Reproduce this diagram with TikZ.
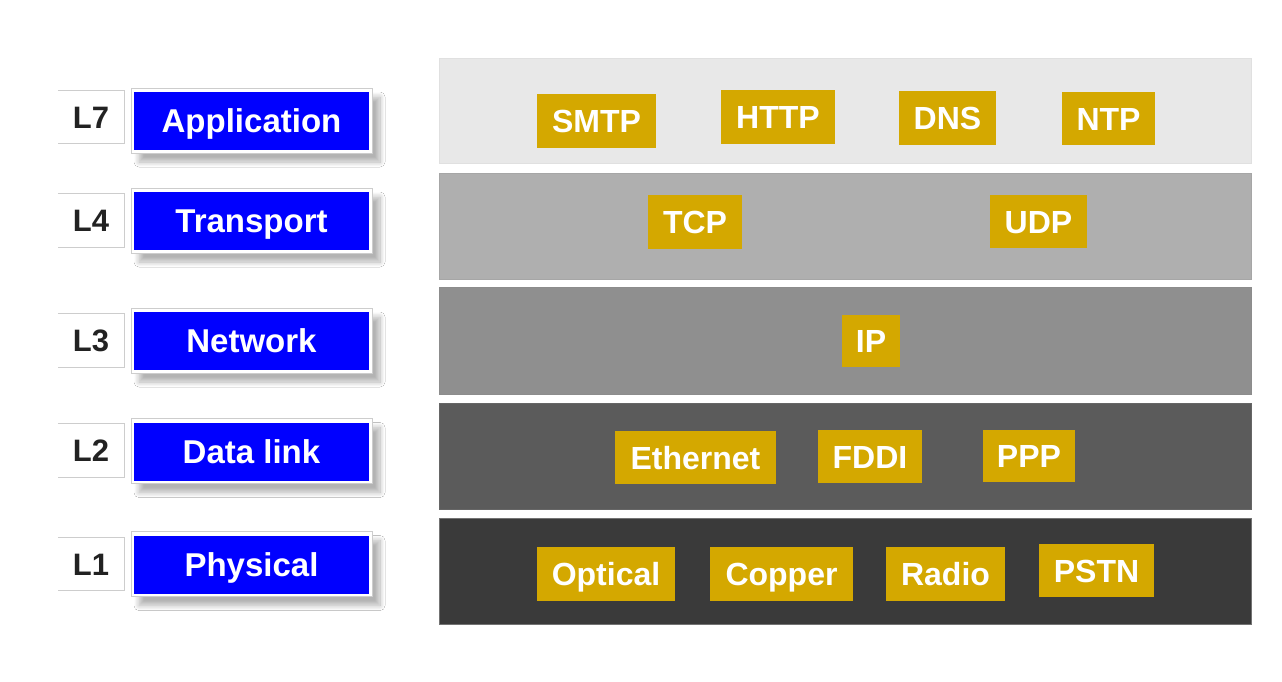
\documentclass[tikz,border=0pt]{standalone}
\usepackage{fontspec}
\setmainfont{Liberation Sans}
\usetikzlibrary{shadows.blur}
\definecolor{gold}{RGB}{212,168,0}
\definecolor{bandA}{RGB}{232,232,232}
\definecolor{bandB}{RGB}{175,175,175}
\definecolor{bandC}{RGB}{143,143,143}
\definecolor{bandD}{RGB}{91,91,91}
\definecolor{bandE}{RGB}{58,58,58}
\definecolor{frameline}{RGB}{205,205,205}
\definecolor{ltext}{RGB}{34,34,34}
\begin{document}
\begin{tikzpicture}[x=1pt,y=-1pt,
  band/.style={inner sep=0pt, minimum width=812pt, line width=0.8pt},
  proto/.style={fill=gold, text=white, inner sep=0pt, font=\bfseries\fontsize{32}{32}\selectfont, text height=23pt, text depth=0pt},
  frame/.style={fill=white, draw=frameline, line width=0.8pt, inner sep=0pt, minimum width=241pt, minimum height=65pt,
    blur shadow={shadow xshift=8pt, shadow yshift=-9pt, shadow blur radius=5pt, shadow blur steps=12, shadow opacity=30}},
  layer/.style={fill=blue, text=white, inner sep=0pt, minimum width=235pt, minimum height=58pt, font=\bfseries\fontsize{33}{33}\selectfont, text height=23.5pt, text depth=0pt},
  lbox/.style={fill=white, inner sep=0pt, minimum width=66pt, minimum height=53pt, text=ltext, font=\bfseries\fontsize{31}{31}\selectfont, text height=22pt, text depth=0pt},
  lline/.style={draw=frameline, line width=0.8pt}
]
\useasboundingbox (0,0) rectangle (1282,681);
\fill[white] (0,0) rectangle (1282,681);

% bands
\node[band, fill=bandA, draw=black!12, minimum height=105pt] (b7) at (845,110.5) {};
\node[band, fill=bandB, draw=black!35, minimum height=106pt] (b4) at (845,226) {};
\node[band, fill=bandC, draw=black!45, minimum height=107pt] (b3) at (845,340.5) {};
\node[band, fill=bandD, draw=black!60, minimum height=106pt] (b2) at (845,456) {};
\node[band, fill=bandE, draw=black!55, minimum height=106pt] (b1) at (845,571) {};

% protocols
\node[proto, minimum width=119pt, minimum height=54pt] (smtp) at (596.5,121) {SMTP};
\node[proto, minimum width=114pt, minimum height=54pt] (http) at (778,117) {HTTP};
\node[proto, minimum width=97pt, minimum height=54pt] (dns) at (947.5,118) {DNS};
\node[proto, minimum width=93pt, minimum height=53pt] (ntp) at (1108.5,118.5) {NTP};
\node[proto, minimum width=94pt, minimum height=54pt] (tcp) at (695,222) {TCP};
\node[proto, minimum width=97pt, minimum height=53pt] (udp) at (1038.5,221.5) {UDP};
\node[proto, minimum width=58pt, minimum height=52pt] (ip) at (871,341) {IP};
\node[proto, minimum width=161pt, minimum height=53pt] (eth) at (695.5,457.5) {Ethernet};
\node[proto, minimum width=104pt, minimum height=53pt] (fddi) at (870,456.5) {FDDI};
\node[proto, minimum width=92pt, minimum height=52pt] (ppp) at (1029,456) {PPP};
\node[proto, minimum width=138pt, minimum height=54pt] (opt) at (606,574) {Optical};
\node[proto, minimum width=143pt, minimum height=54pt] (cop) at (781.5,574) {Copper};
\node[proto, minimum width=119pt, minimum height=54pt] (rad) at (945.5,574) {Radio};
\node[proto, minimum width=115pt, minimum height=53pt] (pstn) at (1096.5,570.5) {PSTN};

% layer names
\node[frame] (f7) at (251.5,120.5) {};
\node[layer] (n7) at (251.5,121) {Application};
\node[frame] (f4) at (251.5,220.5) {};
\node[layer] (n4) at (251.5,221) {Transport};
\node[frame] (f3) at (251.5,340.5) {};
\node[layer] (n3) at (251.5,341) {Network};
\node[frame] (f2) at (251.5,451) {};
\node[layer] (n2) at (251.5,451.5) {Data link};
\node[frame] (f1) at (251.5,564) {};
\node[layer] (n1) at (251.5,564.5) {Physical};

% layer numbers
\node[lbox] (l7) at (91,117) {L7};
\node[lbox] (l4) at (91,220.5) {L4};
\node[lbox] (l3) at (91,340.5) {L3};
\node[lbox] (l2) at (91,450.5) {L2};
\node[lbox] (l1) at (91,564) {L1};
\foreach \l in {l7,l4,l3,l2,l1}
  \draw[lline] (\l.north west) -- (\l.north east) -- (\l.south east) -- (\l.south west);
\end{tikzpicture}
\end{document}
